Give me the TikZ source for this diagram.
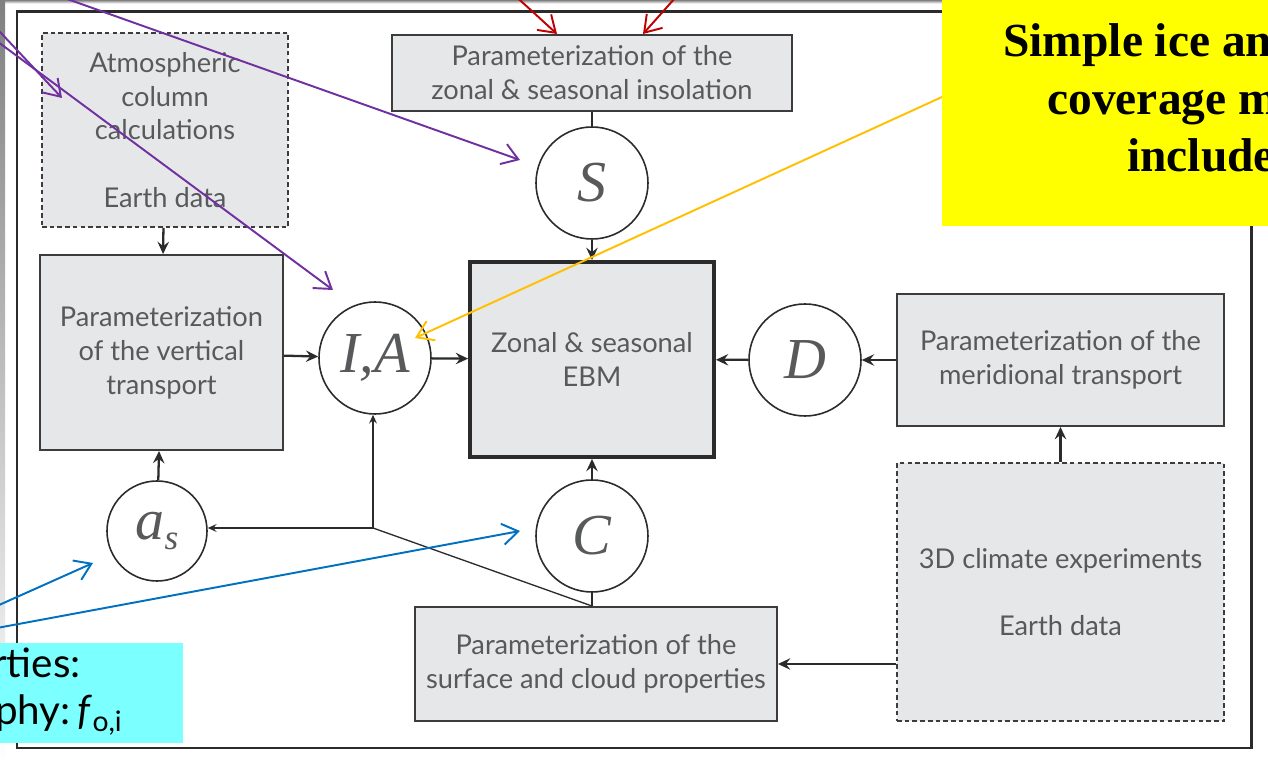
\documentclass[tikz,border=0pt]{standalone}
\usepackage{fontspec}
\setmainfont{Lato}
\newfontfamily\serifit{Liberation Serif}
\usetikzlibrary{arrows.meta, positioning}
\definecolor{ink}{HTML}{2B2B2B}
\definecolor{txt}{HTML}{58595B}
\definecolor{boxbg}{HTML}{E6E7E9}
\definecolor{edge}{HTML}{3C3C3C}
\definecolor{shade}{HTML}{EBEBEB}
\definecolor{purp}{HTML}{7030A0}
\definecolor{redd}{HTML}{C00000}
\definecolor{gold}{HTML}{FFC000}
\definecolor{blu}{HTML}{0070C0}
\definecolor{hiyel}{HTML}{FFFF00}
\definecolor{hicyan}{HTML}{7CFFFF}
\tikzset{
  pbox/.style={draw=edge, fill=boxbg, line width=1.1pt, align=center, inner sep=3pt,
               font=\fontsize{15.5}{19.3}\selectfont, text=txt},
  dbox/.style={pbox, dash pattern=on 2.6pt off 1.8pt},
  ebox/.style={pbox, line width=2.2pt, draw=ink},
  qty/.style={circle, draw=ink, line width=0.9pt, fill=white, minimum size=2.24cm, inner sep=0pt,
              font=\serifit\itshape\fontsize{33}{33}\selectfont, text=txt},
  fl/.style={-{Stealth[length=7pt, width=6.5pt, inset=2.5pt]}, line width=1.3pt, draw=ink},
  tl/.style={-{Stealth[length=5pt, width=4.5pt, inset=1.8pt]}, line width=0.75pt, draw=ink},
  ln/.style={line width=1.1pt, draw=ink},
  note/.style={-{Straight Barb[length=9pt, width=12pt]}, line width=1.1pt},
  ytext/.style={anchor=base west, inner sep=0pt, font=\serifit\bfseries\fontsize{27}{32.6}\selectfont},
  ctext/.style={anchor=base east, inner sep=0pt, font=\fontsize{23}{28}\selectfont},
}

\begin{document}
\begin{tikzpicture}
  \useasboundingbox (0,0) rectangle (25.36,-15.28);
  \clip (0,0) rectangle (25.36,-15.28);
  \fill[white] (0,0) rectangle (25.36,-15.28);
  \fill[shade] (0,0) rectangle (25.36,-0.07); \fill[shade] (0,0) rectangle (0.1,-15.28);
  \draw[line width=1.7pt, draw=ink] (0.34,-0.24) rectangle (25.02,-14.96);

  % model blocks
  \node[dbox, minimum width=4.92cm, minimum height=3.88cm] (atm) at (3.30,-2.60) {Atmospheric\\column\\calculations\\[19.3pt]Earth data};
  \node[pbox, minimum width=8.0cm, minimum height=1.52cm] (ins) at (11.84,-1.46) {Parameterization of the\\zonal \& seasonal insolation};
  \node[qty] (sv) at (11.84,-3.66) {S};
  \node[pbox, minimum width=4.86cm, minimum height=3.90cm] (vert) at (3.23,-7.05) {Parameterization\\of the vertical\\transport};
  \node[qty] (ia) at (7.50,-7.16) {I,A};
  \node[ebox, minimum width=4.88cm, minimum height=3.90cm] (ebm) at (11.84,-7.19) {Zonal \& seasonal\\EBM};
  \node[qty] (dv) at (16.10,-7.20) {D};
  \node[pbox, minimum width=6.54cm, minimum height=2.64cm] (mer) at (21.21,-7.20) {Parameterization of the\\meridional transport};
  \node[dbox, minimum width=6.54cm, minimum height=5.16cm] (exp) at (21.21,-11.84) {3D climate experiments\\[19.3pt]Earth data};
  \node[qty, minimum size=2.0cm] (alb) at (3.14,-10.62) {a\raisebox{-0.18em}{\fontsize{20}{20}\selectfont s}};
  \node[qty] (cv) at (11.84,-10.72) {C};
  \node[pbox, minimum width=7.24cm, minimum height=2.28cm] (srf) at (11.92,-13.28) {Parameterization of the\\surface and cloud properties};
  \coordinate (jn) at (7.46,-10.56);

  \draw[fl] (atm)--(vert); \draw[fl] (vert)--(ia); \draw[fl] (ia)--(ebm); \draw[ln] (ins)--(sv); \draw[fl] (sv)--(ebm);
  \draw[fl] (dv)--(ebm); \draw[fl] (mer)--(dv); \draw[fl] (exp)--(mer); \draw[fl] (srf.east -| exp.west)--(srf.east);
  \draw[fl] (cv)--(ebm); \draw[ln] (srf.north -| cv)--(cv); \draw[fl] (alb)--(vert);
  \draw[line width=0.75pt, draw=ink] (srf.north -| cv)--(jn); \draw[tl] (jn)--(jn -| alb.east); \draw[tl] (jn)--(jn |- ia.south);

  % annotation pointers
  \coordinate (p1) at (-0.6,0); \coordinate (p1t) at (1.24,-1.96);
  \coordinate (p2) at (-1.2,0.02); \coordinate (p2t) at (6.66,-5.80);
  \coordinate (p3) at (-0.4,0.64); \coordinate (p3t) at (10.40,-3.20);
  \coordinate (r1) at (9.74,0.6); \coordinate (r1t) at (11.14,-0.68);
  \coordinate (r2) at (14.0,0.6); \coordinate (r2t) at (12.86,-0.68);
  \coordinate (y1) at (18.84,-1.94); \coordinate (y1t) at (8.30,-6.76);
  \coordinate (b1) at (-0.6,-12.36); \coordinate (b1t) at (1.86,-11.26);
  \coordinate (b2) at (-0.6,-12.66); \coordinate (b2t) at (10.40,-10.62);
  \draw[note, purp] (p1)--(p1t); \draw[note, purp] (p2)--(p2t); \draw[note, purp] (p3)--(p3t);
  \draw[note, redd] (r1)--(r1t); \draw[note, redd] (r2)--(r2t);
  \draw[note, gold] (y1)--(y1t);
  \draw[note, blu] (b1)--(b1t); \draw[note, blu] (b2)--(b2t);

  % highlighted notes
  \node[fill=hiyel, anchor=north west, minimum width=7.2cm, minimum height=4.52cm, inner sep=0pt] (ybox) at (18.84,0) {};
  \node[ytext] (yt1) at (20.06,-1.14) {Simple ice an};
  \node[ytext] (yt2) at (20.94,-2.30) {coverage m};
  \node[ytext] (yt3) at (22.54,-3.44) {include};
  \node[fill=hicyan, anchor=north east, minimum width=4.5cm, minimum height=2.0cm, inner sep=0pt] (cbox) at (3.66,-12.86) {};
  \node[ctext] (ct1) at (1.62,-13.56) {rties:};
  \node[ctext] (ct2) at (2.46,-14.50) {aphy:\,\textit{f}\textsubscript{o,i}};
\end{tikzpicture}
\end{document}
